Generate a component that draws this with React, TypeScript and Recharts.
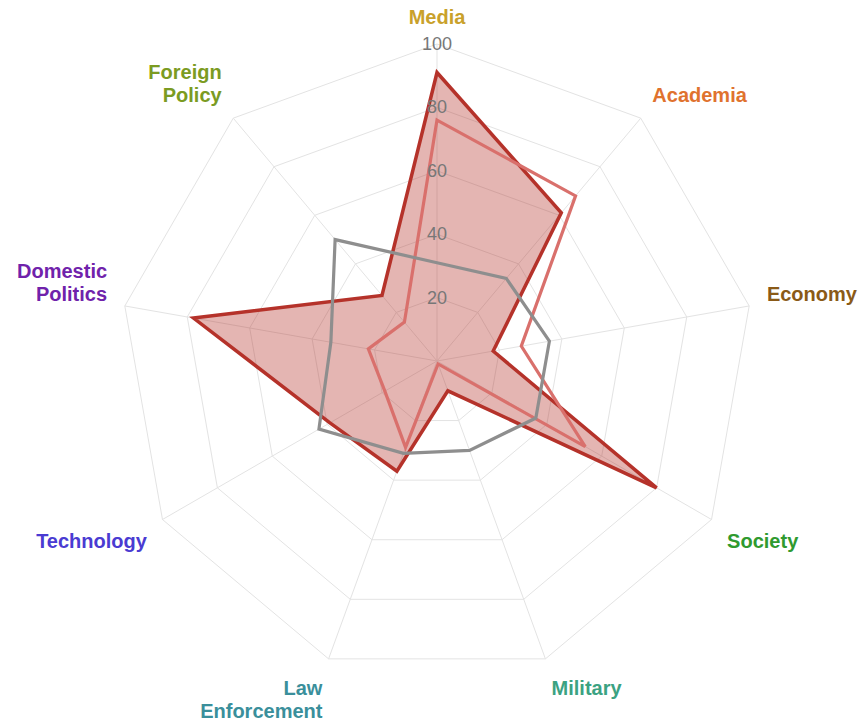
import React from "react";
import {
  RadarChart,
  Radar,
  PolarGrid,
  PolarAngleAxis,
  PolarRadiusAxis,
} from "recharts";

const categories = [
  "Media",
  "Academia",
  "Economy",
  "Society",
  "Military",
  "Law Enforcement",
  "Technology",
  "Domestic Politics",
  "Foreign Policy",
];

const seriesA = [91, 61, 18, 80, 10, 37, 39, 78, 27];
const seriesB = [76, 68, 27, 54, 1, 29, 19, 22, 16];
const seriesC = [31, 34, 36, 36, 30, 31, 43, 34, 50];

const radiusTicks = [0, 20, 40, 60, 80, 100];

const labelColors: Record<string, string> = {
  Media: "#c9a12b",
  Academia: "#e0722e",
  Economy: "#8a5a17",
  Society: "#2f9a2f",
  Military: "#3ba282",
  "Law Enforcement": "#3a8f9b",
  Technology: "#4a3bd2",
  "Domestic Politics": "#7022ab",
  "Foreign Policy": "#7b9b22",
};

const data = categories.map((name, i) => ({
  name,
  a: seriesA[i],
  b: seriesB[i],
  c: seriesC[i],
}));

const CX = 437;
const CY = 361;
const OUTER = 317;
const LABEL_R = 335;
const FONT = '"Liberation Sans", Arial, Helvetica, sans-serif';

// category labels, split on spaces into stacked lines
function AngleTick(props: any) {
  const { x, y, payload } = props;
  const dx = x - CX;
  const dy = y - CY;
  const len = Math.hypot(dx, dy) || 1;
  const ux = dx / len;
  const uy = dy / len;
  const px = CX + ux * LABEL_R;
  const py = CY + uy * LABEL_R;
  const anchor = Math.abs(ux) < 0.05 ? "middle" : ux > 0 ? "start" : "end";
  const value = String(payload.value);
  const lines = value.split(" ");
  const lh = 23;
  const firstBase = uy < 0 ? py - 2 - (lines.length - 1) * lh : py + 19;
  return (
    <text
      x={px}
      y={firstBase}
      textAnchor={anchor}
      fill={labelColors[value] ?? "#333"}
      fontFamily={FONT}
      fontWeight="bold"
      fontSize={20}
    >
      {lines.map((ln, i) => (
        <tspan key={i} x={px} y={firstBase + i * lh}>
          {ln}
        </tspan>
      ))}
    </text>
  );
}

function RadiusTick(props: any) {
  const { x, y, payload } = props;
  if (!payload || payload.value === 0) return null;
  return (
    <text
      x={x}
      y={y}
      textAnchor="middle"
      dominantBaseline="central"
      fill="#777"
      fontFamily={FONT}
      fontSize={18}
    >
      {payload.value}
    </text>
  );
}

export default function App() {
  return (
    <div style={{ position: "absolute", left: 0, top: 0, background: "#fff" }}>
      <RadarChart
        width={861}
        height={721}
        data={data}
        cx={CX}
        cy={CY}
        outerRadius={OUTER}
        margin={{ top: 0, right: 0, bottom: 0, left: 0 }}
      >
        <PolarGrid gridType="polygon" stroke="#e3e3e3" strokeWidth={1} />
        <PolarAngleAxis
          dataKey="name"
          tick={<AngleTick />}
          tickLine={false}
          axisLine={false}
        />
        <PolarRadiusAxis
          angle={90}
          domain={[0, 100]}
          ticks={radiusTicks as any}
          tickCount={6}
          tick={<RadiusTick />}
          axisLine={false}
          tickLine={false}
        />
        <Radar
          dataKey="a"
          stroke="#b5322a"
          strokeWidth={3.5}
          fill="#b5322a"
          fillOpacity={0.36}
          isAnimationActive={false}
        />
        <Radar
          dataKey="b"
          stroke="#d9706c"
          strokeWidth={3.2}
          fill="none"
          fillOpacity={0}
          isAnimationActive={false}
        />
        <Radar
          dataKey="c"
          stroke="#8e8e8e"
          strokeWidth={3.2}
          fill="none"
          fillOpacity={0}
          isAnimationActive={false}
        />
      </RadarChart>
    </div>
  );
}
